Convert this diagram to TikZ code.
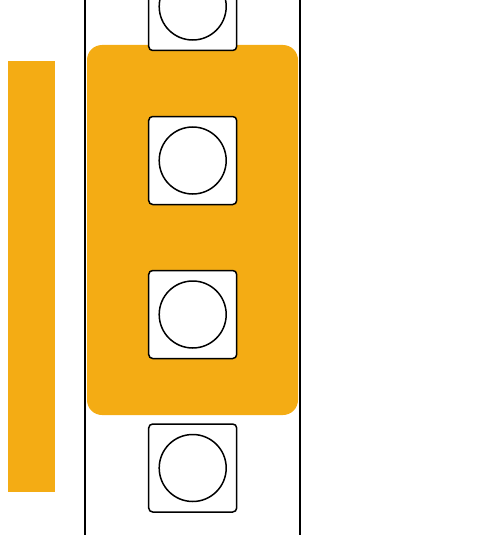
\documentclass[tikz,border=0pt]{standalone}
\definecolor{amber}{HTML}{F4AC14}
\begin{document}
\begin{tikzpicture}[x=1pt,y=-1pt,
  holder/.style={draw=black,fill=white,line width=1.5pt,rounded corners=4pt,minimum width=88pt,minimum height=88pt,inner sep=0pt},
  disc/.style={circle,draw=black,fill=white,line width=1.5pt,minimum size=67pt,inner sep=0pt},
  rail/.style={line width=2pt,draw=black}]
\useasboundingbox (0,0) rectangle (500,535);
\fill[amber] (8,61) rectangle (55,492);
\fill[amber,rounded corners=15pt] (87,45) rectangle (298,415);
\draw[rail] (85,-2) coordinate (l1) -- (85,537) coordinate (l2);
\draw[rail] (300,-2) coordinate (r1) -- (300,537) coordinate (r2);
\foreach \i/\y in {a/6.5,b/160.5,c/314.5,d/468} {
  \node[holder] (sq\i) at (192.7,\y) {};
  \node[disc] (c\i) at (192.7,\y) {};
}
\end{tikzpicture}
\end{document}
